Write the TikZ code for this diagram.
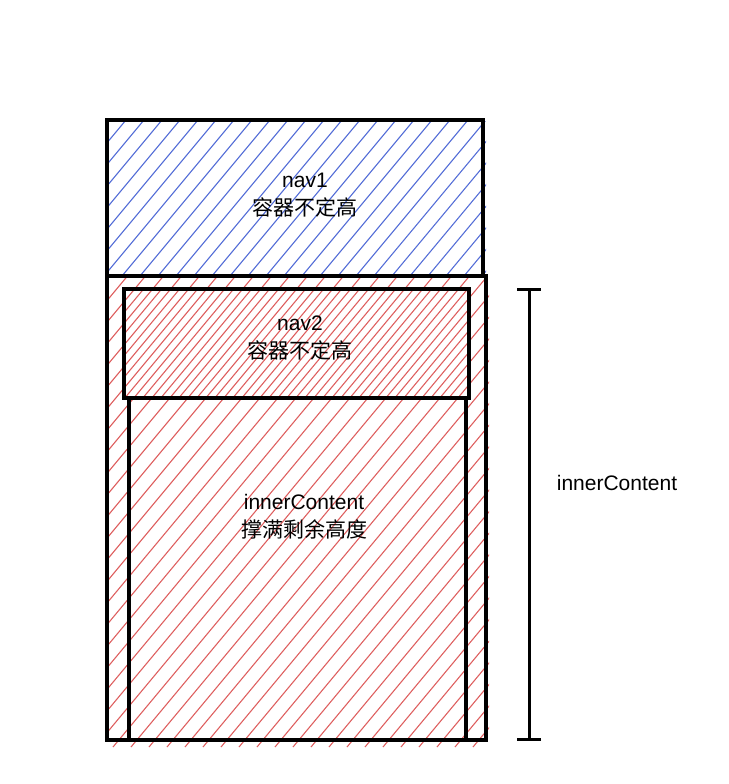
\documentclass[tikz,border=0pt]{standalone}
\usepackage{fontspec}
\setmainfont{Liberation Sans}
\newfontfamily\cjk{Noto Sans CJK SC}
\usepackage{xcolor}
\usetikzlibrary{arrows.meta}
\definecolor{hatchblue}{RGB}{85,110,215}
\definecolor{hatchred}{RGB}{222,95,95}

\begin{document}
\begin{tikzpicture}[x=1pt,y=-1pt,
		frame/.style={line width=3.2pt},
		hatch/.style={line width=1.1pt},
		lbl/.style={font=\fontsize{21}{28}\selectfont, align=center, inner sep=0pt}]
	\useasboundingbox (0,0) rectangle (728,784);
	
	% gạch chéo xanh của nav1
	\begin{scope}
		\clip (108,121) rectangle (486,276);
		\foreach \a in {-40,-22,...,500} { \draw[hatch,hatchblue] (\a,276) -- ++(140,-168); }
	\end{scope}
	
	% gạch chéo đỏ của khối ngoài (lệch một chút như hình)
	\begin{scope}
		\clip (109,277) rectangle (489,747);
		\foreach \a in {-283,-265,...,500} { \draw[hatch,hatchred] (\a,747) -- ++(400,-480); }
	\end{scope}
	
	% nav2 có thêm một lớp gạch chéo
	\begin{scope}
		\clip (125,290) rectangle (469,398);
		\foreach \a in {-19.2,-1.2,...,480} { \draw[hatch,hatchred] (\a,398) -- ++(100,-120); }
	\end{scope}
	
	% các khung
	\draw[frame] (107,276) rectangle (486,740);
	\draw[frame] (107,120) rectangle (483,276);
	\draw[frame] (124,289) rectangle (469,398);
	\draw[frame] (129,398) rectangle (466,740);
	
	% chữ
	\node[lbl] (nav1txt) at (305,195) {nav1\\{\cjk 容器不定高}};
	\node[lbl] (nav2txt) at (300,338) {nav2\\{\cjk 容器不定高}};
	\node[lbl] (innertxt) at (304,517) {innerContent\\{\cjk 撑满剩余高度}};
	
	% thước đo bên phải
	\coordinate (ctop) at (529,288);
	\coordinate (cbot) at (529,741);
	\draw[line width=3pt,{Bar[width=24pt]}-{Bar[width=24pt]}] (ctop) -- (cbot);
	\node[lbl] (sidelbl) at (617,483) {innerContent};
\end{tikzpicture}
\end{document}
